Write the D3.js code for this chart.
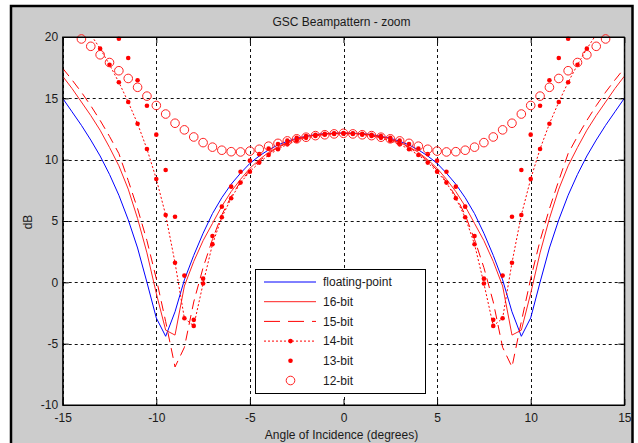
<!DOCTYPE html>
<html>
<head>
<meta charset="utf-8">
<script src="https://cdn.jsdelivr.net/npm/d3@7"></script>
<style>
body { margin: 0; background: #fff; }
text { font-family: "Liberation Sans", Arial, sans-serif; }
</style>
</head>
<body>
<div id="chart"></div>
<script>
// angle grid (degrees)
let angles = [-15,-14.5,-14,-13.5,-13,-12.5,-12,-11.5,-11,-10.5,-10,-9.5,-9,-8.5,-8,-7.5,-7,-6.5,-6,-5.5,-5,-4.5,-4,-3.5,-3,-2.5,-2,-1.5,-1,-0.5,0,
  0.5,1,1.5,2,2.5,3,3.5,4,4.5,5,5.5,6,6.5,7,7.5,8,8.5,9,9.5,10,10.5,11,11.5,12,12.5,13,13.5,14,14.5,15];

// beampattern values in dB
let floatPt = [15.0,13.9,12.8,11.6,10.3,8.8,7.1,5.1,2.8,0.0,-2.9,-4.4,-2.4,0.2,2.2,4.0,5.6,6.9,8.0,8.9,9.7,10.3,10.8,11.2,11.5,11.75,11.9,12.05,12.12,12.16,12.17,
  12.16,12.12,12.05,11.9,11.75,11.5,11.2,10.8,10.3,9.7,8.9,8.0,6.9,5.6,4.0,2.2,0.2,-2.4,-4.4,-2.9,0.0,2.8,5.1,7.1,8.8,10.3,11.6,12.8,13.9,15.0];
let bit16 = [16.8,15.8,14.7,13.6,12.4,11.0,9.5,7.6,5.2,2.4,-0.9,-3.9,-4.3,-0.3,1.7,3.4,4.8,6.2,7.4,8.4,9.3,10.0,10.6,11.05,11.4,11.7,11.88,12.02,12.1,12.15,12.17,
  12.15,12.1,12.02,11.88,11.7,11.4,11.05,10.6,10.0,9.3,8.4,7.4,6.2,4.8,3.4,1.7,-0.3,-4.3,-3.9,-0.9,2.4,5.2,7.6,9.5,11.0,12.4,13.6,14.7,15.8,16.8];
let bit15 = [17.45,16.5,15.5,14.4,13.2,11.9,10.5,8.3,6.0,3.4,0.3,-3.2,-6.9,-5.3,-1.6,1.2,3.5,5.5,7.0,8.2,9.15,9.9,10.5,11.0,11.35,11.65,11.85,12.0,12.08,12.13,12.15,
  12.13,12.08,12.0,11.85,11.65,11.35,11.0,10.5,9.9,9.15,8.2,7.0,5.5,3.5,1.2,-1.6,-5.3,-6.9,-3.2,0.3,3.4,6.0,8.3,10.5,11.9,13.2,14.4,15.5,16.5,17.45];
let bit14 = [23.6,22.4,21.3,20.2,19.05,17.74,16.31,14.7,12.93,10.87,8.43,5.49,1.6,-2.93,-3.55,-0.1,3.1,5.3,6.85,8.13,9.02,9.76,10.38,10.85,11.25,11.55,11.78,11.93,12.03,12.1,12.12,
  12.1,12.03,11.93,11.78,11.55,11.25,10.85,10.38,9.76,9.02,8.13,6.85,5.3,3.1,-0.1,-3.55,-2.93,1.6,5.49,8.43,10.87,12.93,14.7,16.31,17.74,19.05,20.2,21.3,22.4,23.6];
let bit13 = [27.0,25.8,24.6,23.4,22.3,21.1,19.86,18.29,16.47,14.4,12.04,9.16,5.35,0.55,-3.06,0.3,3.78,6.17,7.8,9.02,9.92,10.45,10.9,11.28,11.55,11.78,11.93,12.03,12.1,12.14,12.16,
  12.14,12.1,12.03,11.93,11.78,11.55,11.28,10.9,10.45,9.92,9.02,7.8,6.17,3.78,0.3,-3.06,0.55,5.35,9.16,12.04,14.4,16.47,18.29,19.86,21.1,22.3,23.4,24.6,25.8,27.0];
let bit12 = [21.0,20.4,19.84,19.24,18.55,17.92,17.25,16.62,15.9,15.18,14.42,13.72,12.97,12.43,11.85,11.39,11.02,10.77,10.65,10.63,10.7,10.85,11.1,11.33,11.53,11.7,11.83,11.96,12.03,12.1,12.15,
  12.1,12.03,11.96,11.83,11.7,11.53,11.33,11.1,10.85,10.7,10.63,10.65,10.77,11.02,11.39,11.85,12.43,12.97,13.72,14.42,15.18,15.9,16.62,17.25,17.92,18.55,19.24,19.84,20.4,21.0];

let xTicks = [-15,-10,-5,0,5,10,15];
let yTicks = [-10,-5,0,5,10,15,20];
let legendNames = ["floating-point","16-bit","15-bit","14-bit","13-bit","12-bit"];

let w = 638;
let h = 443;
let pLeft = 62.7, pRight = 624.3, pTop = 37, pBottom = 405;

let svg = d3.select("#chart")
  .append("svg")
  .attr("width", w)
  .attr("height", h);

// figure background with black frame
svg.append("rect")
  .attr("x", 11).attr("y", 6)
  .attr("width", 621.5).attr("height", 450)
  .attr("fill", "#cccccc")
  .attr("stroke", "#000")
  .attr("stroke-width", 2.5);

let x = d3.scaleLinear().domain([-15, 15]).range([pLeft, pRight]);
let y = d3.scaleLinear().domain([-10, 20]).range([pBottom, pTop]);

svg.append("rect")
  .attr("x", pLeft).attr("y", pTop)
  .attr("width", pRight - pLeft).attr("height", pBottom - pTop)
  .attr("fill", "#fff");

svg.append("clipPath").attr("id", "plotclip")
  .append("rect")
  .attr("x", pLeft).attr("y", pTop)
  .attr("width", pRight - pLeft).attr("height", pBottom - pTop);

// dotted grid
let grid = svg.append("g")
  .attr("stroke", "#111")
  .attr("stroke-dasharray", "3,3")
  .attr("stroke-width", 1);
grid.selectAll(".gx").data(xTicks).join("line")
  .attr("x1", d => Math.round(x(d)) + 0.5).attr("x2", d => Math.round(x(d)) + 0.5)
  .attr("y1", pTop).attr("y2", pBottom);
grid.selectAll(".gy").data(yTicks).join("line")
  .attr("y1", d => Math.round(y(d)) + 0.5).attr("y2", d => Math.round(y(d)) + 0.5)
  .attr("x1", pLeft).attr("x2", pRight);

let plot = svg.append("g").attr("clip-path", "url(#plotclip)");

let line = d3.line()
  .x((d, i) => x(angles[i]))
  .y(d => y(d));

// floating-point
plot.append("path").datum(floatPt)
  .attr("d", line).attr("fill", "none")
  .attr("stroke", "#0000ff").attr("stroke-width", 1);

// 16-bit
plot.append("path").datum(bit16)
  .attr("d", line).attr("fill", "none")
  .attr("stroke", "#ff2020").attr("stroke-width", 1);

// 15-bit dashed
plot.append("path").datum(bit15)
  .attr("d", line).attr("fill", "none")
  .attr("stroke", "#ff0000").attr("stroke-width", 1)
  .attr("stroke-dasharray", "10,6");

// 14-bit dotted with dots
plot.append("path").datum(bit14)
  .attr("d", line).attr("fill", "none")
  .attr("stroke", "#ff0000").attr("stroke-width", 1)
  .attr("stroke-dasharray", "2,2");

function inside(v, i) {
  return v <= 20 && v >= -10 && angles[i] >= -15 && angles[i] <= 15;
}

svg.append("g").selectAll("circle")
  .data(bit14.map((v, i) => [angles[i], v]).filter((d, i) => inside(bit14[i], i)))
  .join("circle")
  .attr("cx", d => x(d[0])).attr("cy", d => y(d[1]))
  .attr("r", 2.3).attr("fill", "#ff0000");

// 13-bit dots
svg.append("g").selectAll("circle")
  .data(bit13.map((v, i) => [angles[i], v]).filter((d, i) => inside(bit13[i], i)))
  .join("circle")
  .attr("cx", d => x(d[0])).attr("cy", d => y(d[1]))
  .attr("r", 2.3).attr("fill", "#ff0000");

// 12-bit circles
svg.append("g").selectAll("circle")
  .data(bit12.map((v, i) => [angles[i], v]).filter((d, i) => inside(bit12[i], i)))
  .join("circle")
  .attr("cx", d => x(d[0])).attr("cy", d => y(d[1]))
  .attr("r", 4.3).attr("fill", "none")
  .attr("stroke", "#ff2020").attr("stroke-width", 1);

// box
svg.append("rect")
  .attr("x", pLeft).attr("y", pTop)
  .attr("width", pRight - pLeft).attr("height", pBottom - pTop)
  .attr("fill", "none").attr("stroke", "#000").attr("stroke-width", 1);

// axes with inward ticks
svg.append("g")
  .attr("transform", "translate(0," + pBottom + ")")
  .call(d3.axisBottom(x).tickValues(xTicks).tickSizeInner(-6).tickSizeOuter(0).tickPadding(8.5).tickFormat(d3.format("d")));
svg.append("g")
  .attr("transform", "translate(" + pLeft + ",0)")
  .call(d3.axisLeft(y).tickValues(yTicks).tickSizeInner(-6).tickSizeOuter(0).tickPadding(4.5).tickFormat(d3.format("d")));
svg.append("g")
  .attr("transform", "translate(0," + pTop + ")")
  .call(d3.axisTop(x).tickValues(xTicks).tickSizeInner(-6).tickSizeOuter(0).tickFormat(""));
svg.append("g")
  .attr("transform", "translate(" + pRight + ",0)")
  .call(d3.axisRight(y).tickValues(yTicks).tickSizeInner(-6).tickSizeOuter(0).tickFormat(""));

svg.selectAll(".tick text")
  .attr("font-size", 12)
  .attr("font-family", "Liberation Sans, Arial, sans-serif")
  .attr("fill", "#1a1a1a");
// hyphen minus as in the original
svg.selectAll(".tick text").text(function () { return d3.select(this).text().replace("\u2212", "-"); });

// titles
svg.append("text")
  .attr("x", 341.5).attr("y", 26)
  .attr("text-anchor", "middle")
  .attr("font-size", 12).attr("fill", "#1a1a1a")
  .text("GSC Beampattern - zoom");
svg.append("text")
  .attr("x", 341.5).attr("y", 439)
  .attr("text-anchor", "middle")
  .attr("font-size", 12).attr("fill", "#1a1a1a")
  .text("Angle of Incidence (degrees)");
svg.append("text")
  .attr("transform", "translate(32,222) rotate(-90)")
  .attr("text-anchor", "middle")
  .attr("font-size", 12).attr("fill", "#1a1a1a")
  .text("dB");

// legend
let lg = svg.append("g");
lg.append("rect")
  .attr("x", 255.5).attr("y", 269.5)
  .attr("width", 170).attr("height", 124)
  .attr("fill", "#fff").attr("stroke", "#000").attr("stroke-width", 1);

let rowY = d => 282 + d * 19.7;
let styles = [
  { stroke: "#0000ff", dash: null, dot: false, ring: false, line: true },
  { stroke: "#ff2020", dash: null, dot: false, ring: false, line: true },
  { stroke: "#ff0000", dash: "16,8", dot: false, ring: false, line: true },
  { stroke: "#ff0000", dash: "2,2", dot: true, ring: false, line: true },
  { stroke: "#ff0000", dash: null, dot: true, ring: false, line: false },
  { stroke: "#ff2020", dash: null, dot: false, ring: true, line: false }
];
legendNames.forEach((name, i) => {
  let s = styles[i];
  let yy = rowY(i);
  if (s.line) {
    lg.append("line")
      .attr("x1", 264).attr("x2", 316)
      .attr("y1", yy).attr("y2", yy)
      .attr("stroke", s.stroke).attr("stroke-width", 1)
      .attr("stroke-dasharray", s.dash);
  }
  if (s.dot) {
    lg.append("circle").attr("cx", 290.5).attr("cy", yy).attr("r", 2.3).attr("fill", "#ff0000");
  }
  if (s.ring) {
    lg.append("circle").attr("cx", 290.5).attr("cy", yy).attr("r", 4.3)
      .attr("fill", "none").attr("stroke", s.stroke);
  }
  lg.append("text")
    .attr("x", 323).attr("y", yy + 4.3)
    .attr("font-size", 12).attr("fill", "#1a1a1a")
    .text(name);
});
</script>
</body>
</html>
